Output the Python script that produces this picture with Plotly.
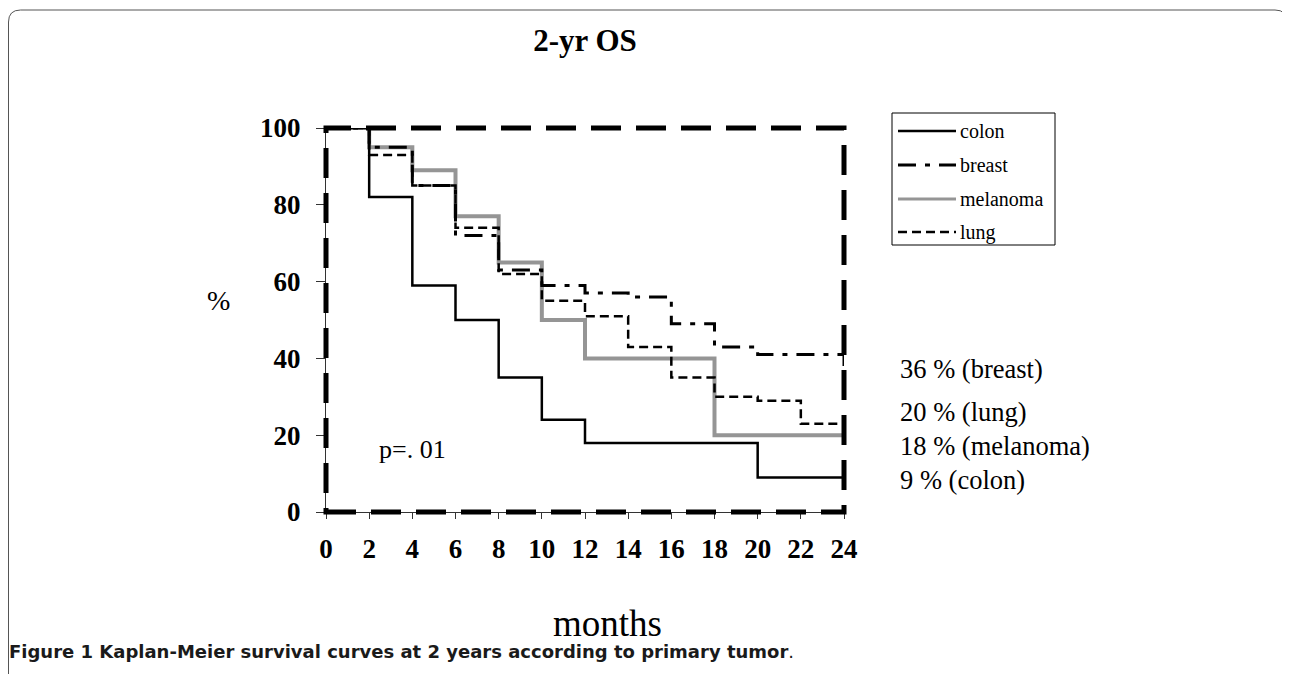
import plotly.graph_objects as go

# ---------------- data ----------------
months = [0, 2, 4, 6, 8, 10, 12, 14, 16, 18, 20, 22, 24]
colon = [100, 82, 59, 50, 35, 24, 18, 18, 18, 18, 9, 9, 9]
breast = [100, 95, 85, 72, 63, 59, 57, 56, 49, 43, 41, 41, 36]
melanoma = [100, 95, 89, 77, 65, 50, 40, 40, 40, 20, 20, 20, 20]
lung = [100, 93, 85, 74, 62, 55, 51, 43, 35, 30, 29, 23, 23]

series_names = ["colon", "breast", "melanoma", "lung"]
x_ticks = [0, 2, 4, 6, 8, 10, 12, 14, 16, 18, 20, 22, 24]
y_ticks = [0, 20, 40, 60, 80, 100]
final_labels = ["36 % (breast)", "20 % (lung)", "18 % (melanoma)", "9 % (colon)"]
p_text = "p=. 01"
title_text = "2-yr OS"
x_title = "months"
y_title = "%"
caption_bold = "Figure 1 Kaplan-Meier survival curves at 2 years according to primary tumor"

# ---------------- layout geometry (screen pixels of the target) ----------------
OFF = 8                      # page body margin
W, H = 1290 - OFF, 674 - OFF
L, R, T, B = 326, 844, 128, 512  # plot area in screen pixels


def px(x):
    return (x - L) / (R - L)


def py(y):
    return (B - y) / (B - T)


SERIF = "Liberation Serif, Times New Roman, serif"

styles = {
    "colon": dict(color="black", width=2.5, dash="solid"),
    "breast": dict(color="black", width=3, dash="18px,9px,5px,9px"),
    "melanoma": dict(color="#959595", width=4, dash="solid"),
    "lung": dict(color="black", width=2.5, dash="9px,5px"),
}
data = {"colon": colon, "breast": breast, "melanoma": melanoma, "lung": lung}
draw_order = ["melanoma", "colon", "lung", "breast"]

fig = go.Figure()
for name in draw_order:
    fig.add_trace(go.Scatter(
        x=months, y=data[name], mode="lines", name=name,
        line=dict(shape="hv", **styles[name]), showlegend=False,
    ))

shapes = []
# dashed frame around data area (0..24, 0..100)
shapes.append(dict(type="rect", xref="paper", yref="paper", x0=0, x1=1, y0=0, y1=1,
                   line=dict(color="black", width=5, dash="30px,15px"), layer="above"))

# outer rounded border of the figure panel
bx0, bx1, by0 = 8.5, 1287, 10
rad = 12
path = (f"M {px(bx0)},{py(680)} L {px(bx0)},{py(by0 + rad)} "
        f"Q {px(bx0)},{py(by0)} {px(bx0 + rad)},{py(by0)} "
        f"L {px(bx1 - rad)},{py(by0)} Q {px(bx1)},{py(by0)} {px(bx1)},{py(by0 + rad)} "
        f"L {px(bx1)},{py(32)}")
shapes.append(dict(type="path", xref="paper", yref="paper", path=path,
                   line=dict(color="#555555", width=1)))

# manual legend
lx0, lx1, ly0, ly1 = 892, 1055, 113, 245
shapes.append(dict(type="rect", xref="paper", yref="paper",
                   x0=px(lx0), x1=px(lx1), y0=py(ly1), y1=py(ly0),
                   line=dict(color="black", width=1), fillcolor="white", layer="above"))
annotations = []
rows = [131, 165, 199, 232]
for name, ry in zip(series_names, rows):
    st = styles[name]
    shapes.append(dict(type="line", xref="paper", yref="paper",
                       x0=px(898), x1=px(956), y0=py(ry), y1=py(ry),
                       line=dict(color=st["color"], width=3 if name == "melanoma" else min(st["width"], 3),
                                 dash=st["dash"]), layer="above"))
    annotations.append(dict(xref="paper", yref="paper", x=px(958), y=py(ry),
                            text=name, showarrow=False, xanchor="left", yanchor="middle",
                            font=dict(family=SERIF, size=20, color="black")))

# final value labels on the right
for txt, ry in zip(final_labels, [369, 412, 446, 480]):
    annotations.append(dict(xref="paper", yref="paper", x=px(898), y=py(ry),
                            text=txt, showarrow=False, xanchor="left", yanchor="middle",
                            font=dict(family=SERIF, size=26.5, color="black")))

# p-value
annotations.append(dict(xref="paper", yref="paper", x=px(377), y=py(449), text=p_text,
                        showarrow=False, xanchor="left", yanchor="middle",
                        font=dict(family=SERIF, size=26, color="black")))
# y title
annotations.append(dict(xref="paper", yref="paper", x=px(218), y=py(300), text=y_title,
                        showarrow=False, xanchor="center", yanchor="middle",
                        font=dict(family=SERIF, size=28, color="black")))
# x title
annotations.append(dict(xref="paper", yref="paper", x=px(607), y=py(623), text=x_title,
                        showarrow=False, xanchor="center", yanchor="middle",
                        font=dict(family=SERIF, size=37, color="black")))
# caption
annotations.append(dict(xref="paper", yref="paper", x=px(7), y=py(651),
                        text=f"<b>{caption_bold}</b>.",
                        showarrow=False, xanchor="left", yanchor="middle",
                        font=dict(family="DejaVu Sans, sans-serif", size=18, color="#1a1a1a")))

fig.update_layout(
    width=W, height=H,
    margin=dict(l=L - OFF, r=W - (R - OFF), t=T - OFF, b=H - (B - OFF), pad=0),
    paper_bgcolor="white", plot_bgcolor="white",
    title=dict(text=f"<b>{title_text}</b>", x=px(585), xref="paper", xanchor="center",
               y=1 - (40 - OFF) / H, yref="container", yanchor="middle",
               font=dict(family=SERIF, size=31, color="black")),
    shapes=shapes, annotations=annotations,
    showlegend=False,
)
fig.update_xaxes(range=[0, 24], tickvals=x_ticks, ticktext=[str(v) for v in x_ticks],
                 showgrid=False, zeroline=False, showline=True, linecolor="#333333", linewidth=1,
                 ticks="outside", ticklen=6, tickwidth=1, tickcolor="#333333",
                 ticklabelstandoff=7,
                 tickfont=dict(family=SERIF, size=27, color="black", weight="bold"))
fig.update_yaxes(range=[0, 100], tickvals=y_ticks, ticktext=[str(v) for v in y_ticks],
                 showgrid=False, zeroline=False, showline=True, linecolor="#333333", linewidth=1,
                 ticks="outside", ticklen=9, tickwidth=1, tickcolor="#333333",
                 ticklabelstandoff=10,
                 tickfont=dict(family=SERIF, size=27, color="black", weight="bold"))

fig.write_html("out.html")
